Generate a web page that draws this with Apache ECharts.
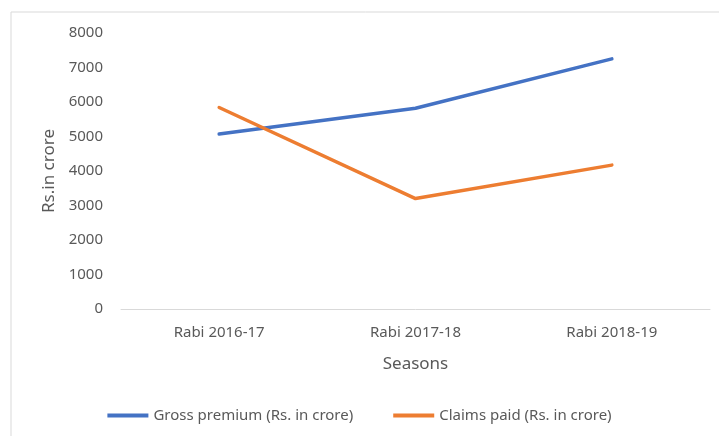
<html>
<head>
    <meta charset="utf-8">
    <title>Gross premium vs claims paid</title>
    <style>
    html, body {
        margin: 0;
        padding: 0;
        background: #fff;
    }
    #chart {
        width: 719px;
        height: 436px;
    }
    </style>
    <script src="https://cdn.jsdelivr.net/npm/echarts@6/dist/echarts.min.js"></script>
</head>
<body>
    <div id="chart"></div>
    <script>
    var seasons = ['Rabi 2016-17', 'Rabi 2017-18', 'Rabi 2018-19'];
    var grossPremium = [5070, 5820, 7250];
    var claimsPaid = [5840, 3200, 4170];
    var seriesNames = ['Gross premium (Rs. in crore)', 'Claims paid (Rs. in crore)'];

    var font = 'Noto Sans';
    var textColor = '#595959';

    var myChart = echarts.init(document.getElementById('chart'));
    var option = {
        backgroundColor: '#fff',
        animation: false,
        textStyle: { fontFamily: font },
        graphic: [{
            type: 'rect',
            shape: { x: 11, y: 12, width: 720, height: 430 },
            style: { fill: 'none', stroke: '#d9d9d9', lineWidth: 1 },
            silent: true
        }],
        grid: {
            left: 121,
            right: 9,
            top: 33,
            bottom: 127
        },
        legend: {
            bottom: 8,
            left: 'center',
            icon: 'rect',
            itemWidth: 41,
            itemHeight: 4,
            itemGap: 40,
            textStyle: { color: textColor, fontSize: 15, fontFamily: font },
            data: seriesNames
        },
        xAxis: {
            type: 'category',
            data: seasons,
            name: 'Seasons',
            nameLocation: 'middle',
            nameGap: 47,
            nameTextStyle: { color: textColor, fontSize: 17, fontFamily: font },
            axisLine: { lineStyle: { color: '#d9d9d9', width: 1 } },
            axisTick: { show: false },
            axisLabel: { color: textColor, fontSize: 15, margin: 16 }
        },
        yAxis: {
            type: 'value',
            min: 0,
            max: 8000,
            interval: 1000,
            name: 'Rs.in crore',
            nameLocation: 'middle',
            nameGap: 61,
            nameTextStyle: { color: textColor, fontSize: 17, fontFamily: font },
            axisLine: { show: false },
            axisTick: { show: false },
            splitLine: { show: false },
            axisLabel: {
                color: textColor,
                fontSize: 15,
                margin: 18,
                formatter: function (v) { return String(v); }
            }
        },
        series: [
            {
                name: seriesNames[0],
                type: 'line',
                data: grossPremium,
                showSymbol: false,
                symbol: 'none',
                lineStyle: { color: '#4472C4', width: 3.5, cap: 'round' },
                itemStyle: { color: '#4472C4' }
            },
            {
                name: seriesNames[1],
                type: 'line',
                data: claimsPaid,
                showSymbol: false,
                symbol: 'none',
                lineStyle: { color: '#ED7D31', width: 3.5, cap: 'round' },
                itemStyle: { color: '#ED7D31' }
            }
        ]
    };
    myChart.setOption(option);
    </script>
</body>
</html>
